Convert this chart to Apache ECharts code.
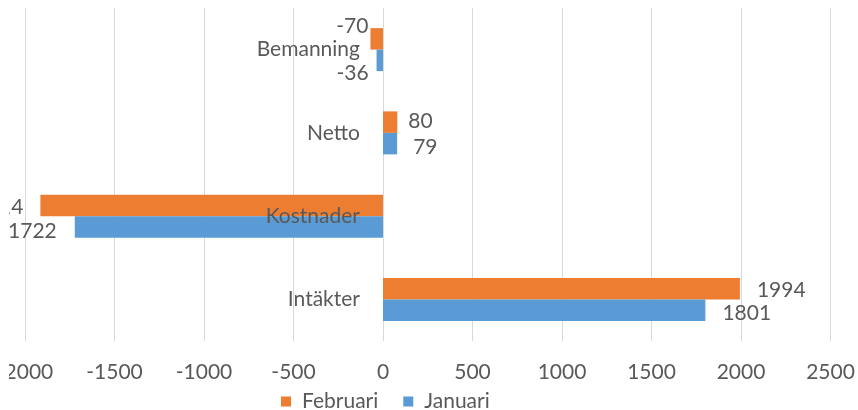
<!DOCTYPE html>
<html>
<head>
<meta charset="utf-8">
<script src="https://cdn.jsdelivr.net/npm/echarts@6/dist/echarts.min.js"></script>
<style>
  html, body { margin: 0; padding: 0; background: #fff; }
  #main { position: absolute; left: 9px; top: 0; width: 849px; height: 410px; }
</style>
</head>
<body>
<div id="main"></div>
<script>
// data
var categories = ['Intäkter', 'Kostnader', 'Netto', 'Bemanning'];
var januari = [1801, -1722, 79, -36];
var februari = [1994, -1914, 80, -70];
var xTicks = { min: -2000, max: 2500, step: 500 };

var textColor = '#595959';
var fontName = 'Lato';
var fontSize = 21;

// label placement per category (excel put them by hand)
var febOffsets = [[0, 2], [0, 2], [0, -1], [0, -13]];
var janOffsets = [[0, 3], [0, 4], [5, 4], [0, 13]];
var febDist = [17, 17, 11, 2];
var janDist = [17, 18, 11, 8];

function buildData(values, offsets, dists) {
    return values.map(function (v, i) {
        return {
            value: v,
            label: {
                position: v < 0 ? 'left' : 'right',
                distance: dists[i],
                offset: offsets[i]
            }
        };
    });
}

var myChart = echarts.init(document.getElementById('main'));
var option = {
    backgroundColor: '#fff',
    animation: false,
    textStyle: { fontFamily: fontName },
    grid: {
        left: 16,
        right: 27.5,
        top: 8,
        bottom: 69,
        containLabel: false,
        outerBoundsMode: 'none'
    },
    legend: {
        data: ['Februari', 'Januari'],
        left: 272,
        top: 391,
        padding: 0,
        itemWidth: 10,
        itemHeight: 10,
        itemGap: 25,
        icon: 'rect',
        textStyle: { color: textColor, fontSize: fontSize, fontFamily: fontName, padding: [0, 0, 0, 6] }
    },
    xAxis: {
        type: 'value',
        min: xTicks.min,
        max: xTicks.max,
        interval: xTicks.step,
        axisLine: { show: false },
        axisTick: { show: false },
        splitLine: { lineStyle: { color: '#D9D9D9', width: 1 } },
        axisLabel: {
            color: textColor, fontSize: fontSize, fontFamily: fontName, margin: 21,
            formatter: function (v) { return String(v); }
        }
    },
    yAxis: {
        type: 'category',
        data: categories,
        z: 10,
        // put the axis on the zero line (358px = distance from -2000 to 0)
        offset: -358,
        axisLine: { show: false, onZero: false },
        axisTick: { show: false },
        axisLabel: { color: textColor, fontSize: fontSize, fontFamily: fontName, margin: 23 }
    },
    series: [
        {
            name: 'Februari',
            type: 'bar',
            barWidth: 21.5,
            barGap: '0%',
            itemStyle: { color: '#ED7D31' },
            label: { show: true, color: textColor, fontSize: fontSize, fontFamily: fontName },
            data: buildData(februari, febOffsets, febDist)
        },
        {
            name: 'Januari',
            type: 'bar',
            barWidth: 21.5,
            barGap: '0%',
            itemStyle: { color: '#5B9BD5' },
            label: { show: true, color: textColor, fontSize: fontSize, fontFamily: fontName },
            data: buildData(januari, janOffsets, janDist)
        }
    ]
};
myChart.setOption(option);
</script>
</body>
</html>
